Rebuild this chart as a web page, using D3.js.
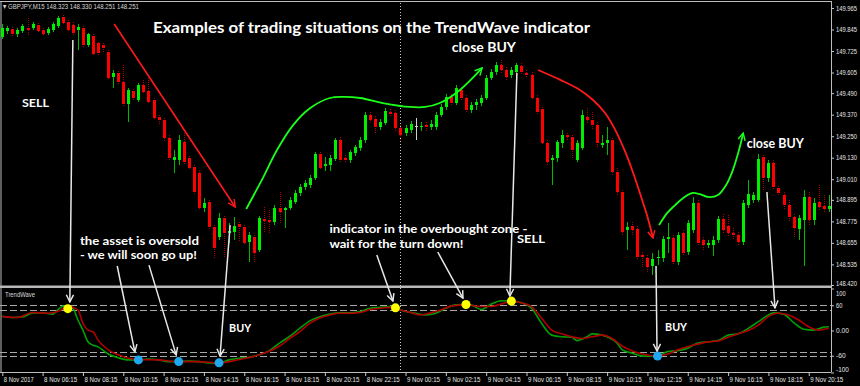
<!DOCTYPE html>
<html>
<head>
<meta charset="utf-8">
<script src="https://cdn.jsdelivr.net/npm/d3@7"></script>
<style>
  html, body { margin: 0; padding: 0; background: #000; }
  svg { display: block; }
</style>
</head>
<body>
<div id="chart"></div>
<script>
// GBPJPY M15, one candle per 15 minutes from 8 Nov 04:15 : [open, high, low, close]
const candles = [
  [149.804,149.876,149.792,149.854],[149.837,149.865,149.820,149.854],[149.848,149.859,149.809,149.820],[149.820,149.854,149.804,149.843],
  [149.837,149.876,149.826,149.865],[149.854,149.909,149.815,149.843],[149.854,149.887,149.843,149.876],[149.870,149.882,149.826,149.837],
  [149.843,149.854,149.809,149.820],[149.826,149.859,149.815,149.848],[149.843,149.887,149.831,149.876],[149.865,149.921,149.854,149.909],
  [149.915,149.926,149.870,149.882],[149.887,149.898,149.831,149.843],[149.870,149.887,149.809,149.826],[149.843,149.876,149.731,149.859],
  [149.854,149.865,149.748,149.759],[149.759,149.826,149.748,149.820],[149.809,149.820,149.697,149.709],[149.770,149.776,149.703,149.714],
  [149.759,149.770,149.720,149.742],[149.720,149.731,149.564,149.575],[149.580,149.619,149.519,149.603],[149.603,149.614,149.541,149.552],
  [149.552,149.647,149.418,149.430],[149.430,149.519,149.329,149.508],[149.502,149.513,149.452,149.463],[149.452,149.547,149.441,149.536],
  [149.536,149.564,149.485,149.497],[149.502,149.575,149.430,149.441],[149.452,149.463,149.340,149.351],[149.357,149.368,149.318,149.340],
  [149.340,149.351,149.218,149.240],[149.240,149.257,149.117,149.128],[149.117,149.173,149.045,149.134],[149.117,149.257,149.089,149.229],
  [149.218,149.268,149.095,149.106],[149.128,149.139,149.061,149.072],[149.078,149.089,148.922,148.939],[149.045,149.061,148.838,148.849],
  [148.849,148.905,148.827,148.877],[148.883,148.894,148.727,148.743],[148.743,148.754,148.570,148.626],[148.688,148.821,148.671,148.793],
  [148.793,148.805,148.570,148.710],[148.710,148.766,148.654,148.721],[148.716,148.799,148.671,148.749],[148.760,148.771,148.660,148.743],
  [148.743,148.754,148.643,148.654],[148.660,148.716,148.548,148.699],[148.688,148.699,148.542,148.598],[148.615,148.805,148.604,148.793],
  [148.788,148.855,148.710,148.777],[148.782,148.838,148.710,148.771],[148.771,148.866,148.754,148.849],[148.849,148.939,148.766,148.827],
  [148.838,148.855,148.738,148.849],[148.849,148.911,148.838,148.894],[148.883,148.950,148.872,148.933],[148.933,148.983,148.916,148.967],
  [148.967,149.006,148.950,148.989],[148.978,149.033,148.961,149.017],[149.017,149.162,149.006,149.151],[149.151,149.162,149.061,149.072],
  [149.084,149.134,149.056,149.095],[149.089,149.145,149.056,149.128],[149.123,149.240,149.112,149.229],[149.229,149.246,149.106,149.117],
  [149.128,149.145,149.100,149.117],[149.117,149.173,149.100,149.162],[149.156,149.201,149.139,149.190],[149.184,149.246,149.167,149.229],
  [149.229,149.385,149.212,149.368],[149.368,149.385,149.324,149.340],[149.346,149.363,149.268,149.301],[149.301,149.346,149.285,149.329],
  [149.324,149.407,149.312,149.391],[149.385,149.402,149.357,149.374],[149.379,149.396,149.279,149.296],[149.296,149.312,149.229,149.257],
  [149.268,149.312,149.251,149.296],[149.285,149.335,149.268,149.318],[149.307,149.351,149.229,149.307],[149.301,149.329,149.279,149.307],
  [149.312,149.329,149.279,149.301],[149.301,149.340,149.285,149.318],[149.301,149.385,149.285,149.368],[149.368,149.430,149.357,149.413],
  [149.413,149.485,149.396,149.469],[149.469,149.485,149.418,149.435],[149.435,149.536,149.424,149.519],[149.508,149.525,149.446,149.463],
  [149.463,149.480,149.379,149.396],[149.396,149.441,149.379,149.424],[149.424,149.458,149.396,149.441],[149.435,149.480,149.418,149.463],
  [149.463,149.592,149.452,149.575],[149.575,149.625,149.564,149.608],[149.608,149.664,149.592,149.647],[149.647,149.675,149.603,149.619],
  [149.619,149.636,149.564,149.580],[149.592,149.636,149.575,149.619],[149.608,149.658,149.592,149.647],[149.642,149.658,149.592,149.608],
  [149.603,149.619,149.575,149.592],[149.592,149.608,149.452,149.463],[149.463,149.480,149.368,149.385],[149.402,149.413,149.201,149.212],
  [149.212,149.229,149.089,149.106],[149.117,149.145,148.978,149.128],[149.128,149.229,149.106,149.218],[149.212,149.285,149.184,149.257],
  [149.257,149.268,149.229,149.246],[149.246,149.257,149.128,149.173],[149.117,149.229,149.106,149.212],[149.184,149.396,149.173,149.368],
  [149.357,149.407,149.324,149.340],[149.340,149.385,149.285,149.312],[149.312,149.329,149.190,149.212],[149.201,149.257,149.184,149.212],
  [149.212,149.301,149.145,149.229],[149.229,149.240,149.033,149.050],[149.050,149.072,148.916,148.939],[148.939,148.950,148.699,148.716],
  [148.727,148.771,148.615,148.743],[148.749,148.771,148.699,148.727],[148.732,148.749,148.559,148.576],[148.587,148.604,148.514,148.576],
  [148.570,148.587,148.492,148.520],[148.526,148.598,148.475,148.565],[148.570,148.615,148.531,148.576],[148.570,148.693,148.548,148.676],
  [148.676,148.766,148.598,148.688],[148.682,148.699,148.531,148.548],[148.548,148.716,148.531,148.699],[148.710,148.727,148.581,148.598],
  [148.604,148.782,148.587,148.766],[148.727,148.911,148.710,148.877],[148.877,148.894,148.637,148.654],[148.671,148.688,148.615,148.643],
  [148.643,148.671,148.626,148.654],[148.643,148.693,148.581,148.671],[148.671,148.805,148.654,148.788],[148.788,148.816,148.704,148.727],
  [148.749,148.810,148.693,148.710],[148.710,148.738,148.671,148.699],[148.699,148.716,148.643,148.660],[148.660,148.894,148.643,148.877],
  [148.866,149.006,148.849,148.927],[148.894,148.939,148.877,148.922],[148.894,149.151,148.883,149.123],[149.134,149.145,148.950,149.017],
  [149.017,149.117,148.994,149.100],[149.100,149.117,148.950,148.967],[148.961,148.972,148.916,148.933],[148.922,148.939,148.838,148.866],
  [148.866,148.894,148.771,148.799],[148.799,148.816,148.682,148.738],[148.732,148.810,148.671,148.793],[148.782,148.950,148.526,148.911],
  [148.911,148.939,148.754,148.782],[148.782,148.905,148.754,148.877],[148.883,148.978,148.838,148.855],[148.861,148.922,148.827,148.843],
  [148.843,148.922,148.827,148.861]
];

// TrendWave indicator, [bar, value]
const waveFast = [[0,34],[2,31],[4,32],[6,42],[8,42],[10,39],[11,49],[12,58],[13,58],[14,53],[15,25],[16,1],[17,-27],[18,-35],[19,-39],
  [21,-56],[23,-65],[25,-70],[27,-70],[29,-68],[31,-70],[33,-74],[35,-74],[37,-73],[39,-74],[41,-77],[43,-77],[45,-70],[47,-66],[49,-64],
  [51,-58],[53,-48],[55,-30],[57,-14],[59,5],[61,23],[63,33],[65,39],[67,42],[69,42],[71,45],[73,53],[75,55],[77,57],[78,54],[80,45],
  [82,41],[84,37],[86,41],[88,53],[90,61],[92,62],[93,61],[95,50],[97,63],[99,71],[101,70],[103,66],[105,53],[107,17],[109,-11],[111,-15],
  [113,-16],[114,-24],[116,-15],[117,-8],[119,-11],[120,-15],[122,-30],[123,-46],[125,-54],[127,-61],[130,-61],[132,-50],[134,-48],
  [136,-42],[138,-30],[140,-27],[142,-24],[144,-11],[146,-8],[148,5],[150,21],[152,37],[153,42],[155,39],[157,19],[159,3],[161,1],[163,8],[164,9]];
const waveSlow = [[0,33],[3,31],[6,43],[9,41],[11,45],[13,57],[15,49],[16,17],[17,1],[18,-3],[19,-23],[21,-46],[23,-58],[25,-66],[27,-69],
  [31,-70],[35,-74],[39,-74],[43,-77],[47,-69],[51,-58],[55,-37],[57,-19],[59,-3],[61,17],[63,30],[65,37],[67,41],[69,41],[71,43],[73,50],
  [75,53],[77,55],[79,49],[81,43],[83,37],[85,42],[87,49],[89,58],[92,61],[95,57],[97,57],[99,63],[101,69],[103,66],[105,57],[107,29],
  [109,1],[111,-8],[113,-15],[115,-19],[117,-15],[119,-11],[121,-19],[123,-37],[125,-49],[127,-56],[130,-61],[132,-56],[134,-46],[137,-35],
  [140,-27],[142,-25],[144,-16],[146,-8],[148,0],[150,13],[152,33],[154,41],[156,37],[158,25],[160,9],[162,1],[164,6]];
const overboughtDots = [[13,52],[78,54],[92,62],[101,70]];
const oversoldDots = [[27,-70],[35,-74],[43,-77],[130,-61]];
const waveLevels = [60, 50, -50, -60];

const priceTicks = [149.965,149.845,149.725,149.605,149.490,149.370,149.250,149.130,149.010,148.895,148.775,148.655,148.535,148.420];
const waveTicks = [100, 60, 0, -60, -100];
const timeTickBars = [0,8,16,24,32,40,48,56,64,72,80,88,96,104,112,120,128,136,144,152,160];
const timeLabels = ["8 Nov 2017","8 Nov 06:15","8 Nov 08:15","8 Nov 10:15","8 Nov 12:15","8 Nov 14:15","8 Nov 16:15",
  "8 Nov 18:15","8 Nov 20:15","8 Nov 22:15","9 Nov 00:15","9 Nov 02:15","9 Nov 04:15","9 Nov 06:15","9 Nov 08:15",
  "9 Nov 10:15","9 Nov 12:15","9 Nov 14:15","9 Nov 16:15","9 Nov 18:15","9 Nov 20:15"];
const dayBreakBar = 79;

// hand drawn trend marks, [bar, price]
const sellLine = [[22.2,149.876],[46.2,148.855]];
const buyCurve = [[48.4,148.844],[51.5,149.006],[54.5,149.173],[57.7,149.312],[61.1,149.407],[65.0,149.463],[67.6,149.469],
  [71.0,149.463],[75.5,149.435],[80.9,149.413],[83.9,149.413],[86.8,149.435],[90.8,149.508],[95.2,149.631]];
const sellCurve = [[106.3,149.619],[110.7,149.564],[114.6,149.508],[117.2,149.452],[119.6,149.379],[121.6,149.285],
  [123.6,149.162],[125.1,149.050],[126.5,148.933],[127.9,148.810],[129.1,148.682]];
const buyCurve2 = [[130.3,148.754],[131.9,148.821],[133.5,148.866],[135.1,148.905],[136.8,148.933],[138.4,148.927],
  [140.0,148.911],[142.0,148.922],[143.6,148.978],[144.8,149.050],[146.0,149.156],[147.0,149.268]];
// pointers: from [bar, price] down to [bar, indicator value]
const pointers = [
  { from: [14.0,149.787], to: [13.4,68] },
  { from: [22.8,148.526], to: [26.3,-51] },
  { from: [29.1,148.531], to: [34.5,-58] },
  { from: [45.2,148.754], to: [43.2,-61] },
  { from: [74.3,148.587], to: [77.5,70] },
  { from: [86.4,148.604], to: [91.4,77] },
  { from: [102.1,149.603], to: [100.7,82] },
  { from: [129.7,148.526], to: [129.9,-49] },
  { from: [151.7,148.939], to: [153.3,54] }
];
const priceNotes = [
  { text: "SELL", at: [3.9,149.415], size: 12, w: 27 },
  { text: "close BUY", at: [89.2,149.720], size: 13, w: 64 },
  { text: "close BUY", at: [147.7,149.182], size: 12.5, w: 57 },
  { text: "SELL", at: [102.1,148.656], size: 12, w: 28 },
  { text: "the asset is oversold", at: [15.4,148.643], size: 12, w: 119 },
  { text: "- we will soon go up!", at: [15.4,148.565], size: 12, w: 117 },
  { text: "indicator in the overbought zone -", at: [64.9,148.710], size: 12, w: 198 },
  { text: "wait for the turn down!", at: [64.9,148.626], size: 12, w: 134 }
];
const waveNotes = [
  { text: "BUY", at: [45.0,-4], size: 12, w: 22 },
  { text: "BUY", at: [131.5,-1], size: 12, w: 22 }
];

const width = 860, height = 386;
const right = 831, priceBottom = 286, waveBottom = 372;
const axisFont = "'Liberation Sans', Arial, sans-serif";
const noteFont = "'Comic Sans MS', Lato, sans-serif";

const x = d3.scaleLinear().domain([0, 164]).range([2.3, 828.9]);
const y = d3.scaleLinear().domain([148.420, 149.965]).range([285, 8]);
const yw = d3.scaleLinear().domain([-100, 100]).range([372.5, 288.5]);

const svg = d3.select("#chart").append("svg")
  .attr("width", width).attr("height", height)
  .style("background", "#000");

const defs = svg.append("defs");
function arrowHead(id, color) {
  defs.append("marker").attr("id", id)
    .attr("viewBox", "0 0 10 10").attr("refX", 9).attr("refY", 5)
    .attr("markerWidth", 9).attr("markerHeight", 9)
    .attr("markerUnits", "userSpaceOnUse").attr("orient", "auto")
    .append("path").attr("d", "M1,1 L9,5 L1,9")
    .attr("fill", "none").attr("stroke", color).attr("stroke-width", 1.6);
}
arrowHead("ah-white", "#e8e8e8");
arrowHead("ah-red", "#ff1a1a");
arrowHead("ah-green", "#1aff1a");

// frame
const frame = svg.append("g").attr("stroke", "#bdbdbd").attr("fill", "none");
frame.append("line").attr("x1", 1).attr("x2", 1).attr("y1", 1).attr("y2", waveBottom);
frame.append("line").attr("x1", 0).attr("x2", right).attr("y1", 1.5).attr("y2", 1.5);
frame.append("line").attr("x1", right + 0.5).attr("x2", right + 0.5).attr("y1", 1).attr("y2", waveBottom);
frame.append("line").attr("x1", 0).attr("x2", right).attr("y1", waveBottom + 0.5).attr("y2", waveBottom + 0.5);
svg.append("rect").attr("x", 0).attr("y", priceBottom - 0.5).attr("width", right + 1).attr("height", 2.5).attr("fill", "#b8b8b8");

// day separator
svg.append("line")
  .attr("x1", Math.round(x(dayBreakBar)) + 0.5).attr("x2", Math.round(x(dayBreakBar)) + 0.5)
  .attr("y1", 3).attr("y2", waveBottom)
  .attr("stroke", "#c8c8c8").attr("stroke-dasharray", "1,2");

// candles
const isUp = d => d[3] > d[0];
const isFlat = d => d[3] === d[0];
const candle = svg.append("g").attr("shape-rendering", "crispEdges")
  .selectAll("g").data(candles).join("g");
candle.append("line")
  .attr("x1", (d, i) => Math.round(x(i)) + 0.5).attr("x2", (d, i) => Math.round(x(i)) + 0.5)
  .attr("y1", d => y(d[1])).attr("y2", d => y(d[2]))
  .attr("stroke", d => isFlat(d) ? "#d0d0d0" : isUp(d) ? "#00b800" : "#b00000")
  .attr("stroke-dasharray", d => isUp(d) || isFlat(d) ? null : "1,1");
candle.append("rect")
  .attr("x", (d, i) => Math.round(x(i)) - 1)
  .attr("width", 3)
  .attr("y", d => y(Math.max(d[0], d[3])))
  .attr("height", d => Math.max(1, Math.abs(y(d[0]) - y(d[3]))))
  .attr("fill", d => isFlat(d) ? "#d0d0d0" : isUp(d) ? "#00f000" : "#ff0000");

// trend marks
const priceLine = d3.line().x(d => x(d[0])).y(d => y(d[1])).curve(d3.curveCatmullRom.alpha(0.5));
svg.append("path").attr("d", priceLine(sellLine)).attr("fill", "none")
  .attr("stroke", "#ff1a1a").attr("stroke-width", 1.6).attr("marker-end", "url(#ah-red)");
svg.append("path").attr("d", priceLine(buyCurve)).attr("fill", "none")
  .attr("stroke", "#1aff1a").attr("stroke-width", 1.8).attr("marker-end", "url(#ah-green)");
svg.append("path").attr("d", priceLine(sellCurve)).attr("fill", "none")
  .attr("stroke", "#ff1a1a").attr("stroke-width", 1.8).attr("marker-end", "url(#ah-red)");
svg.append("path").attr("d", priceLine(buyCurve2)).attr("fill", "none")
  .attr("stroke", "#1aff1a").attr("stroke-width", 1.8).attr("marker-end", "url(#ah-green)");

// indicator panel
svg.append("g").selectAll("line").data(waveLevels).join("line")
  .attr("x1", 0).attr("x2", right)
  .attr("y1", d => Math.round(yw(d)) + 0.5).attr("y2", d => Math.round(yw(d)) + 0.5)
  .attr("stroke", "#a8a8a8").attr("stroke-dasharray", "7,3");

const waveLine = d3.line().x(d => x(d[0])).y(d => yw(d[1])).curve(d3.curveMonotoneX);
svg.append("path").attr("d", waveLine(waveFast)).attr("fill", "none")
  .attr("stroke", "#00a000").attr("stroke-width", 1.6);
svg.append("path").attr("d", waveLine(waveSlow)).attr("fill", "none")
  .attr("stroke", "#b00000").attr("stroke-width", 1.6);

svg.append("g").selectAll("circle").data(overboughtDots).join("circle")
  .attr("cx", d => x(d[0])).attr("cy", d => yw(d[1])).attr("r", 4.5).attr("fill", "#ffff00");
svg.append("g").selectAll("circle").data(oversoldDots).join("circle")
  .attr("cx", d => x(d[0])).attr("cy", d => yw(d[1])).attr("r", 4.5).attr("fill", "#1fa8ee");

svg.append("text").attr("x", 5).attr("y", 296.5)
  .attr("font-family", axisFont).attr("font-size", 7.5).attr("fill", "#d8d8d8")
  .attr("textLength", 30).attr("lengthAdjust", "spacingAndGlyphs")
  .text("TrendWave");

// pointers
svg.append("g").selectAll("line").data(pointers).join("line")
  .attr("x1", d => x(d.from[0])).attr("y1", d => y(d.from[1]))
  .attr("x2", d => x(d.to[0])).attr("y2", d => yw(d.to[1]))
  .attr("stroke", "#e8e8e8").attr("stroke-width", 1.5)
  .attr("marker-end", "url(#ah-white)");

// axes
const priceAxis = svg.append("g").attr("transform", `translate(${right},0)`)
  .call(d3.axisRight(y).tickValues(priceTicks).tickFormat(d3.format(".3f")).tickSize(3).tickPadding(2));
const waveAxis = svg.append("g").attr("transform", `translate(${right},0)`)
  .call(d3.axisRight(yw).tickValues(waveTicks).tickFormat(d => d === 0 ? "0.00" : String(d)).tickSize(3).tickPadding(2));
const timeAxis = svg.append("g").attr("transform", `translate(0,${waveBottom})`)
  .call(d3.axisBottom(x).tickValues(timeTickBars).tickFormat((d, i) => timeLabels[i]).tickSize(4).tickPadding(2));

[priceAxis, waveAxis, timeAxis].forEach(g => {
  g.select(".domain").remove();
  g.selectAll(".tick line").attr("stroke", "#c8c8c8");
  g.selectAll("text").attr("fill", "#e6e6e6").attr("font-family", axisFont)
    .attr("lengthAdjust", "spacingAndGlyphs");
});
priceAxis.selectAll("text").attr("font-size", 6.6).attr("textLength", 21)
  .attr("dy", d => d === 148.420 ? "0.1em" : "0.32em");
waveAxis.selectAll("text").attr("font-size", 6.6)
  .attr("textLength", d => String(d === 0 ? "0.00" : d).length * 3.2)
  .attr("dy", d => d === 100 ? "1.05em" : d === -100 ? "-0.1em" : "0.32em");
timeAxis.selectAll("text").attr("font-size", 7.5)
  .attr("text-anchor", "start").attr("x", 1).attr("dy", "0.55em")
  .attr("textLength", (d, i) => i === 0 ? 30 : 33);

// header and title
svg.append("text").attr("x", 3).attr("y", 8.5)
  .attr("font-family", axisFont).attr("font-size", 7.5).attr("fill", "#d8d8d8")
  .attr("textLength", 136).attr("lengthAdjust", "spacingAndGlyphs")
  .text("\u25BE GBPJPY,M15  148.323 148.330 148.251 148.251");

svg.append("text").attr("x", 371.5).attr("y", 33.3).attr("text-anchor", "middle")
  .attr("font-family", noteFont).attr("font-weight", "bold").attr("font-size", 16).attr("fill", "#fff")
  .attr("textLength", 437).attr("lengthAdjust", "spacingAndGlyphs")
  .text("Examples of trading situations on the TrendWave indicator");

// notes
svg.append("g").selectAll("text").data(priceNotes).join("text")
  .attr("x", d => x(d.at[0])).attr("y", d => y(d.at[1]))
  .attr("font-family", noteFont).attr("font-weight", "bold").attr("font-size", d => d.size).attr("fill", "#fff")
  .attr("textLength", d => d.w).attr("lengthAdjust", "spacingAndGlyphs")
  .text(d => d.text);
svg.append("g").selectAll("text").data(waveNotes).join("text")
  .attr("x", d => x(d.at[0])).attr("y", d => yw(d.at[1]))
  .attr("font-family", noteFont).attr("font-weight", "bold").attr("font-size", d => d.size).attr("fill", "#fff")
  .attr("textLength", d => d.w).attr("lengthAdjust", "spacingAndGlyphs")
  .text(d => d.text);
</script>
</body>
</html>
